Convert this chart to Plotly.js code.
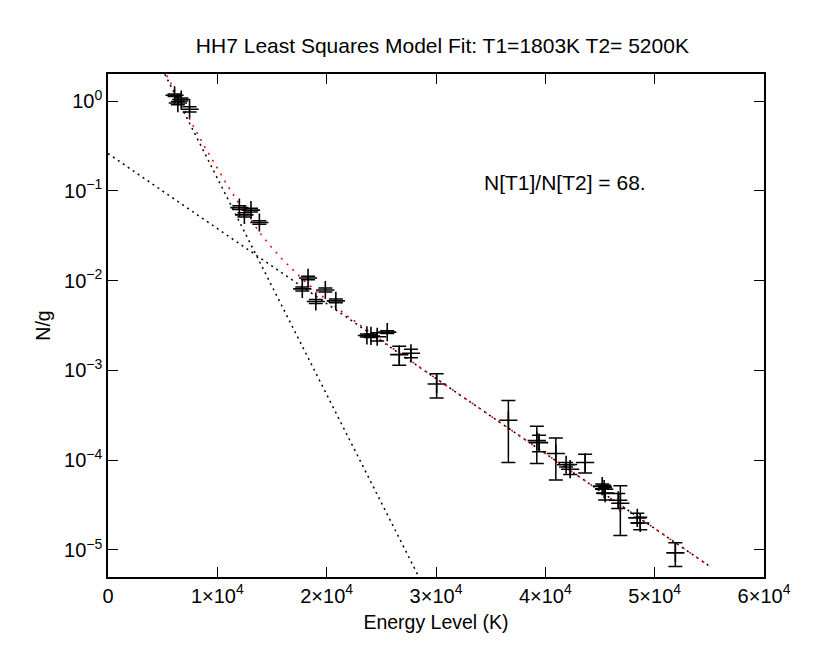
<!DOCTYPE html>
<html>
<head>
<meta charset="utf-8">
<script src="https://cdn.plot.ly/plotly-3.0.1.min.js"></script>
<style>
  html, body { margin: 0; padding: 0; background: #fff; }
  #chart { width: 830px; height: 664px; }
</style>
</head>
<body>
<div id="chart"></div>
<script>
(() => {
  "use strict";

  // measured level populations (energy in K, N/g, 1-sigma in N/g)
  const energy = [6090, 6390, 6700, 7460, 12015, 12473, 13077, 13846,
    17770, 18300, 19010, 19880, 20840, 23680, 24050, 24620, 25540, 26640,
    27710, 30060, 36620, 39220, 39430, 40960, 41900, 42270, 43640, 45200,
    45380, 45470, 46670, 46860, 48410, 48680, 51890];
  const ng = [1.16, 0.95, 1.04, 0.81, 0.065, 0.054, 0.061, 0.0444,
    0.00808, 0.0107, 0.00585, 0.00786, 0.00595, 0.00245, 0.00242, 0.00237,
    0.00267, 0.0015, 0.00155, 0.000705, 0.000278, 0.000165, 0.000157,
    0.0001185, 0.000089, 0.0000794, 0.0000944, 0.0000514, 0.0000476,
    0.000043, 0.0000358, 0.0000332, 0.0000228, 0.00002, 0.00000929];
  const sigma = [0.04, 0.04, 0.04, 0.055, 0.003, 0.003, 0.003, 0.002,
    0.0004, 0.0005, 0.0003, 0.0004, 0.0003, 0.0001, 0.0001, 0.00025,
    0.0001, 0.00036, 0.00017, 0.000213, 0.000184, 0.000073, 0.000033,
    0.0000585, 0.000005, 0.00001, 0.0000222, 0.000003, 0.000005,
    0.000007, 0.0000068, 0.0000187, 0.0000028, 0.0000032, 0.00000276];

  // model components (straight lines on log axis)
  const coolE = [0, 30000];
  const coolN = [35.5, 0.0000021];
  const warmE = [0, 55000];
  const warmN = [0.26, 0.00000663];

  // summed model (red)
  const sumE = [4000, 5000, 6000, 7000, 8000, 9000, 10000, 11000, 12000,
    13000, 14000, 15000, 16000, 18000, 20000, 22000, 25000, 30000, 35000,
    40000, 45000, 50000, 55000];
  const sumN = [3.98, 2.316, 1.355, 0.799, 0.476, 0.2872, 0.1764, 0.1109,
    0.0715, 0.0476, 0.0327, 0.0232, 0.01696, 0.0098, 0.00609, 0.00396,
    0.002157, 0.000813, 0.00031, 0.0001187, 0.0000454, 0.00001734,
    0.00000663];

  const xTicks = [0, 10000, 20000, 30000, 40000, 50000, 60000];
  const xTickText = ["0", "1×10<sup>4</sup>", "2×10<sup>4</sup>",
    "3×10<sup>4</sup>", "4×10<sup>4</sup>", "5×10<sup>4</sup>",
    "6×10<sup>4</sup>"];
  const yTicks = [1, 0.1, 0.01, 0.001, 0.0001, 0.00001];
  const yTickText = ["10<sup>0</sup>", "10<sup>−1</sup>", "10<sup>−2</sup>",
    "10<sup>−3</sup>", "10<sup>−4</sup>", "10<sup>−5</sup>"];

  const FONT = "Liberation Sans, Arial, Helvetica, sans-serif";
  const dotted = "2px,4px";

  const traces = [
    {
      type: "scatter", mode: "lines", x: coolE, y: coolN,
      line: { color: "#000", width: 1.5, dash: dotted }, hoverinfo: "skip"
    },
    {
      type: "scatter", mode: "lines", x: warmE, y: warmN,
      line: { color: "#000", width: 1.5, dash: dotted }, hoverinfo: "skip"
    },
    {
      type: "scatter", mode: "lines", x: sumE, y: sumN,
      line: { color: "#ff0000", width: 1.5, dash: "2px,6px" }, hoverinfo: "skip"
    },
    {
      type: "scatter", mode: "markers", x: energy, y: ng,
      marker: { symbol: "cross-thin-open", size: 13, color: "#000",
        line: { color: "#000", width: 1.6 } },
      error_y: { type: "data", array: sigma, visible: true,
        color: "#000", thickness: 1.5, width: 7 }
    }
  ];

  const layout = {
    width: 830,
    height: 664,
    margin: { l: 108, r: 66, t: 74, b: 87 },
    paper_bgcolor: "#fff",
    plot_bgcolor: "#fff",
    showlegend: false,
    font: { family: FONT, color: "#000", size: 20 },
    title: {
      text: "HH7 Least Squares Model Fit: T1=1803K T2= 5200K",
      font: { family: FONT, size: 21, color: "#000" },
      x: 0.533, xanchor: "center", y: 0.932, yanchor: "middle"
    },
    xaxis: {
      range: [0, 60000],
      tickvals: xTicks, ticktext: xTickText,
      ticks: "inside", ticklen: 10, tickwidth: 1, tickcolor: "#000",
      showline: true, linecolor: "#000", linewidth: 1.5, mirror: "ticks",
      showgrid: false, zeroline: false,
      tickfont: { family: FONT, size: 20 },
      title: { text: "Energy Level (K)", font: { family: FONT, size: 19.5 }, standoff: 10 }
    },
    yaxis: {
      type: "log",
      range: [Math.log10(0.000005), Math.log10(2)],
      tickvals: yTicks, ticktext: yTickText,
      ticks: "inside", ticklen: 10, tickwidth: 1, tickcolor: "#000",
      showline: true, linecolor: "#000", linewidth: 1.5, mirror: "ticks",
      showgrid: false, zeroline: false,
      tickfont: { family: FONT, size: 20 },
      title: { text: "N/g", font: { family: FONT, size: 19.5 }, standoff: 8 }
    },
    annotations: [
      {
        text: "N[T1]/N[T2] = 68.",
        xref: "paper", yref: "paper", x: 0.57, y: 0.785,
        xanchor: "left", yanchor: "middle", showarrow: false,
        font: { family: FONT, size: 21, color: "#000" }
      }
    ]
  };

  Plotly.newPlot("chart", traces, layout, { displayModeBar: false });
})();
</script>
</body>
</html>
